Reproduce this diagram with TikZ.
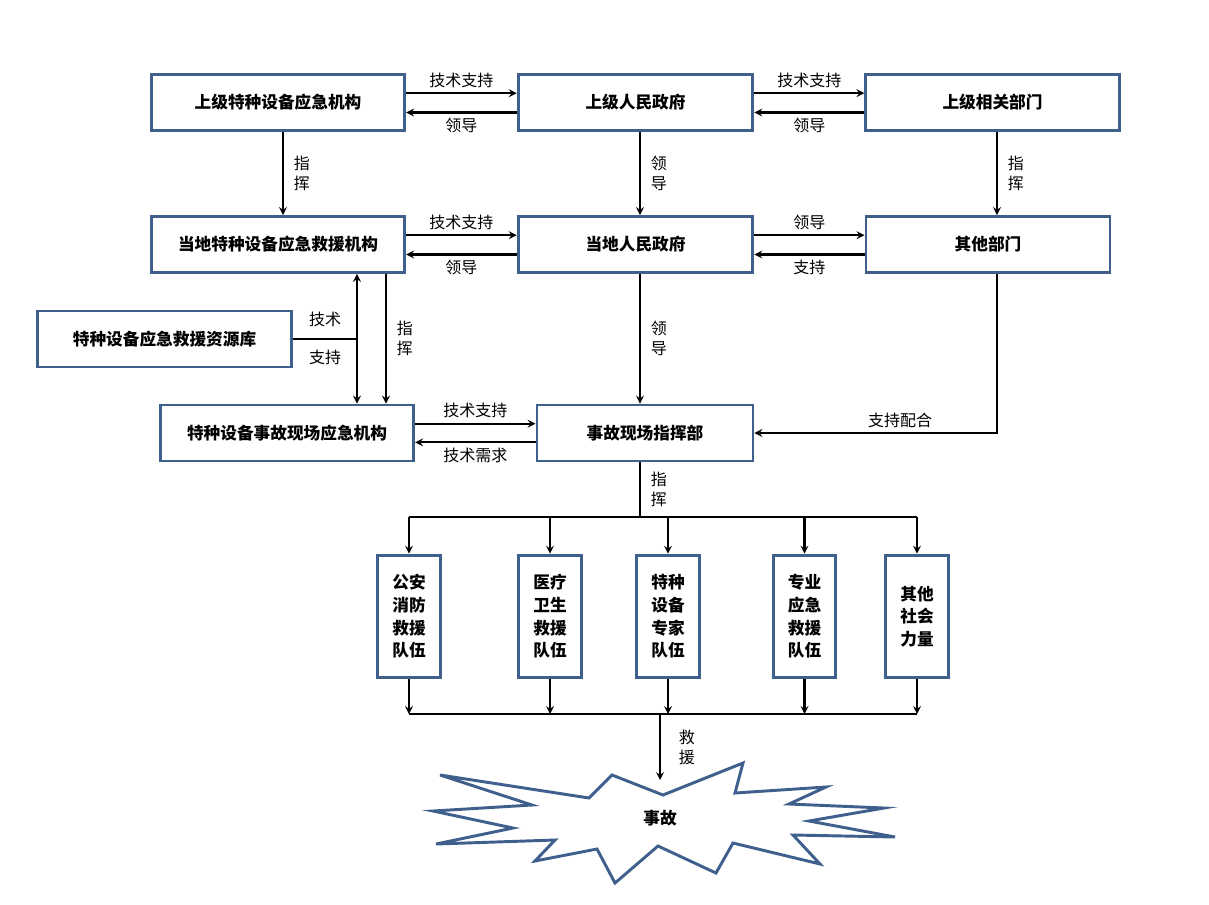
\documentclass[tikz,border=0pt]{standalone}
\usepackage{fontspec}
\setmainfont{Noto Sans CJK SC}
\usetikzlibrary{calc}
\definecolor{boxcol}{RGB}{63,95,140}
\tikzset{
  box/.style={draw=boxcol,line width=2.2pt,minimum height=42pt,font=\fontsize{12.5}{14}\selectfont\bfseries,inner sep=0pt},
  team/.style={draw=boxcol,line width=2.2pt,minimum width=47pt,minimum height=92pt,font=\fontsize{12.5}{17}\selectfont\bfseries,align=center,inner sep=0pt},
  lab/.style={font=\fontsize{12}{15}\selectfont,align=center},
  arr/.style={->,>=stealth,line width=1.6pt},
  ln/.style={line width=1.6pt}
}
\begin{document}
\begin{tikzpicture}[x=0.75pt,y=-0.75pt]
\useasboundingbox (0,0) rectangle (1209,904);
%% boxes
\node (A1) at (278,102.5) [box,minimum width=190pt] {上级特种设备应急机构};
\node (A2) at (635.5,102.5) [box,minimum width=176pt] {上级人民政府};
\node (A3) at (992.5,102.5) [box,minimum width=190pt] {上级相关部门};
\node (B1) at (278,244.5) [box,minimum width=190pt] {当地特种设备应急救援机构};
\node (B2) at (635.5,244.5) [box,minimum width=176pt] {当地人民政府};
\node (B3) at (988,244.5) [box,minimum width=183pt] {其他部门};
\node (R) at (164.5,339) [box,minimum width=191pt] {特种设备应急救援资源库};
\node (C1) at (287,433) [box,minimum width=190pt] {特种设备事故现场应急机构};
\node (C2) at (645,433) [box,minimum width=162pt] {事故现场指挥部};
\node (T1) at (409,616.5) [team] {公安\\消防\\救援\\队伍};
\node (T2) at (550,616.5) [team] {医疗\\卫生\\救援\\队伍};
\node (T3) at (668,616.5) [team] {特种\\设备\\专家\\队伍};
\node (T4) at (804.5,616.5) [team] {专业\\应急\\救援\\队伍};
\node (T5) at (917,616.5) [team] {其他\\社会\\力量};
%% star
\draw[draw=boxcol,line width=2.2pt] (440,775) -- (589,798) -- (612,775) -- (663,795) -- (743,763) -- (735,793) -- (826,787) -- (789,804) -- (884,808) -- (809,821) -- (895,837) -- (793,835) -- (820,864) -- (733,843) -- (716,873) -- (658,846) -- (615,883) -- (597,849) -- (535,861) -- (555,840) -- (436,844) -- (513,828) -- (433,811) -- (532,805) -- cycle;
\node (S) at (660,818) [font=\fontsize{12.5}{14}\selectfont\bfseries] {事故};
%% top row
\draw[arr] ([yshift=7pt]A1.east) -- node[lab,above] {技术支持} ([yshift=7pt]A2.west);
\draw[arr] ([yshift=-7.5pt]A2.west) -- node[lab,below] {领导} ([yshift=-7.5pt]A1.east);
\draw[arr] ([yshift=7pt]A2.east) -- node[lab,above] {技术支持} ([yshift=7pt]A3.west);
\draw[arr] ([yshift=-7.5pt]A3.west) -- node[lab,below] {领导} ([yshift=-7.5pt]A2.east);
%% second row
\draw[arr] ([yshift=7pt]B1.east) -- node[lab,above] {技术支持} ([yshift=7pt]B2.west);
\draw[arr] ([yshift=-7.5pt]B2.west) -- node[lab,below] {领导} ([yshift=-7.5pt]B1.east);
\draw[arr] ([yshift=7pt]B2.east) -- node[lab,above] {领导} ([yshift=7pt]B3.west);
\draw[arr] ([yshift=-7.5pt]B3.west) -- node[lab,below] {支持} ([yshift=-7.5pt]B2.east);
%% verticals
\draw[arr] (A1.south -| 283,0) -- node[lab,right=4pt] {指\\挥} (B1.north -| 283,0);
\draw[arr] (A2.south -| 640,0) -- node[lab,right=4pt] {领\\导} (B2.north -| 640,0);
\draw[arr] (A3.south -| 997,0) -- node[lab,right=4pt] {指\\挥} (B3.north -| 997,0);
\draw[arr,<->] (B1.south -| 357,0) -- (C1.north -| 357,0);
\draw[arr] (B1.south -| 386,0) -- node[lab,right=4pt] {指\\挥} (C1.north -| 386,0);
\draw[ln] (R.east) -- (357,339);
\node[lab] at (325,319) {技术};
\node[lab] at (325,357) {支持};
\draw[arr] (B2.south -| 640,0) -- node[lab,right=4pt] {领\\导} (C2.north -| 640,0);
\draw[arr] (B3.south -| 997,0) -- (997,433) -- node[lab,above,pos=0.4] {支持配合} (C2.east);
%% third row
\draw[arr] ([yshift=7pt]C1.east) -- node[lab,above] {技术支持} ([yshift=7pt]C1.east -| C2.west);
\draw[arr] ([yshift=-7pt]C2.west) -- node[lab,below] {技术需求} ([yshift=-7pt]C2.west -| C1.east);
%% teams
\coordinate (bus1) at (640,517);
\draw[ln] (C2.south -| bus1) -- node[lab,right=4pt] {指\\挥} (bus1);
\draw[ln] (409,517) -- (917,517);
\foreach \t in {T1,T2,T3,T4,T5} {
  \draw[arr] (\t.north |- bus1) -- (\t.north);
  \draw[arr] (\t.south) -- (\t.south |- 0,714);
}
\draw[ln] (409,714) -- (917,714);
\coordinate (bus2) at (660,714);
\draw[arr] (bus2) -- node[lab,right=10pt] {救\\援} (660,780);
\end{tikzpicture}
\end{document}
